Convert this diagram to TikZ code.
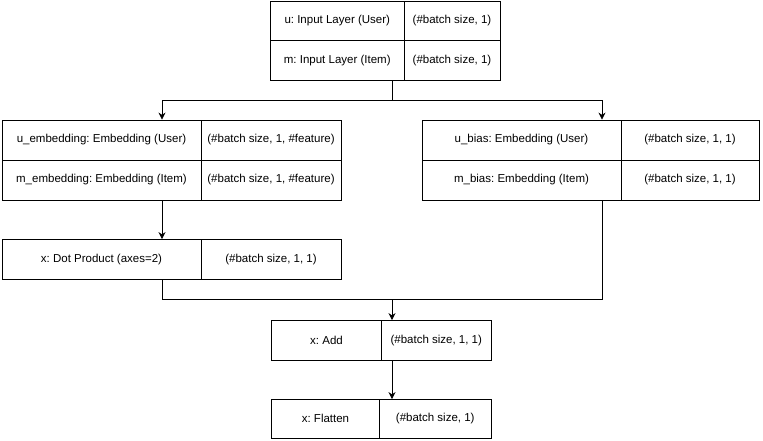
\documentclass[tikz,border=0pt]{standalone}
\usepackage{fontspec}
\setmainfont{Liberation Sans}
\usetikzlibrary{arrows.meta,calc}
\frenchspacing
\begin{document}
\begin{tikzpicture}[x=1pt,y=-1pt,
  cell/.style={draw=black,line width=0.8pt,rectangle,inner sep=0pt,anchor=center,
    font=\fontsize{11.5}{13}\selectfont\frenchspacing},
  conn/.style={draw=black,line width=0.8pt},
  arr/.style={conn,-{Stealth[length=7pt,width=7pt]}}]
\useasboundingbox[fill=white] (0,0) rectangle (763,441);
% top
\node[cell,minimum width=133.5pt,minimum height=39.5pt] (tu1) at (337.25,20.75) {u: Input Layer (User)};
\node[cell,minimum width=96pt,minimum height=39.5pt] (tu2) at (452,20.75) {(\#batch size, 1)};
\node[cell,minimum width=133.5pt,minimum height=39.5pt] (tm1) at (337.25,60.25) {m: Input Layer (Item)};
\node[cell,minimum width=96pt,minimum height=39.5pt] (tm2) at (452,60.25) {(\#batch size, 1)};
% left embeddings
\node[cell,minimum width=199pt,minimum height=40pt] (ue1) at (101.5,140) {u\_embedding: Embedding (User)};
\node[cell,minimum width=140pt,minimum height=40pt] (ue2) at (271,140) {(\#batch size, 1, \#feature)};
\node[cell,minimum width=199pt,minimum height=40pt] (me1) at (101.5,180) {m\_embedding: Embedding (Item)};
\node[cell,minimum width=140pt,minimum height=40pt] (me2) at (271,180) {(\#batch size, 1, \#feature)};
% right biases
\node[cell,minimum width=199pt,minimum height=40pt] (ub1) at (521.5,140) {u\_bias: Embedding (User)};
\node[cell,minimum width=138pt,minimum height=40pt] (ub2) at (690,140) {(\#batch size, 1, 1)};
\node[cell,minimum width=199pt,minimum height=40pt] (mb1) at (521.5,180) {m\_bias: Embedding (Item)};
\node[cell,minimum width=138pt,minimum height=40pt] (mb2) at (690,180) {(\#batch size, 1, 1)};
% dot
\node[cell,minimum width=199pt,minimum height=39.5pt] (dot1) at (101.5,259.25) {x: Dot Product (axes=2)};
\node[cell,minimum width=140pt,minimum height=39.5pt] (dot2) at (271,259.25) {(\#batch size, 1, 1)};
% add
\node[cell,minimum width=110pt,minimum height=39.5pt] (add1) at (326.5,340.25) {x: Add};
\node[cell,minimum width=109.5pt,minimum height=39.5pt] (add2) at (436.25,340.25) {(\#batch size, 1, 1)};
% flatten
\node[cell,minimum width=108pt,minimum height=38.5pt] (fl1) at (325.5,418.75) {x: Flatten};
\node[cell,minimum width=111.5pt,minimum height=38.5pt] (fl2) at (435.25,418.75) {(\#batch size, 1)};
% junctions
\coordinate (j1) at (392,100);
\coordinate (cl) at (162,0);
\coordinate (cr) at (602,0);
\coordinate (j2) at (392,299);
% connectors
\draw[conn] (tm1.south -| j1) -- (j1);
\draw[arr] (j1) -| (ue1.north -| cl);
\draw[arr] (j1) -| (ub1.north -| cr);
\draw[arr] (me1.south -| cl) -- (dot1.north -| cl);
\draw[conn] (dot1.south -| cl) |- (j2);
\draw[conn] (mb1.south -| cr) |- (j2);
\draw[arr] (j2) -- (add2.north -| j2);
\draw[arr] (add2.south -| j2) -- (fl2.north -| j2);
\end{tikzpicture}
\end{document}
